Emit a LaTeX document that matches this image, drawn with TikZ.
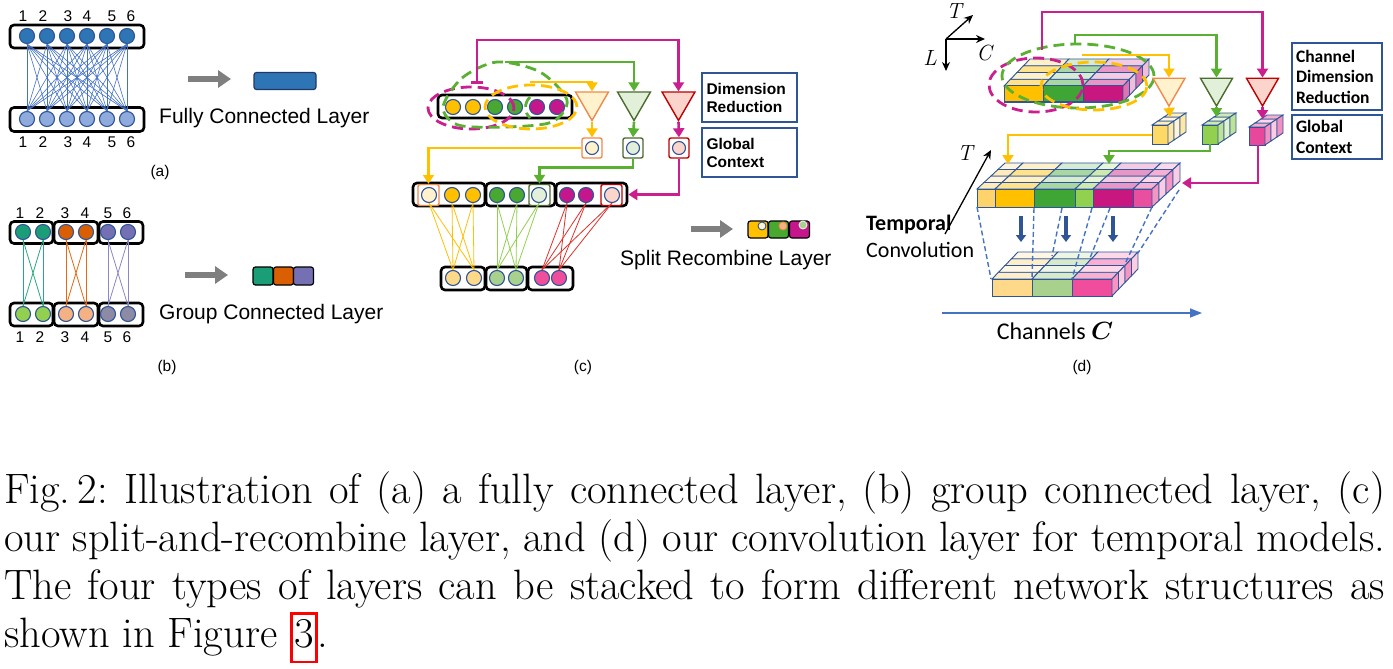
\documentclass[tikz,border=0pt]{standalone}
\usepackage{fontspec}
\usepackage{amsmath}
\usetikzlibrary{arrows.meta,shapes.geometric,calc}
\newfontfamily\arialf{Liberation Sans}
\newfontfamily\calf{Carlito}
\definecolor{fcblue}{HTML}{2E75B6}
\definecolor{cborder}{HTML}{2F5597}
\definecolor{fclight}{HTML}{8FAADC}
\definecolor{fcline}{HTML}{4472C4}
\definecolor{darkb}{HTML}{1F3864}
\definecolor{arrgray}{HTML}{7F7F7F}
\definecolor{tealB}{HTML}{1B9E77}
\definecolor{orgB}{HTML}{D95F02}
\definecolor{purB}{HTML}{7570B3}
\definecolor{lgrnB}{HTML}{92D050}
\definecolor{peachB}{HTML}{F4B183}
\definecolor{gpurB}{HTML}{8C8AA4}
\definecolor{tealL}{HTML}{2AA784}
\definecolor{orgL}{HTML}{E5690E}
\definecolor{purL}{HTML}{8C86C4}
\definecolor{cyel}{HTML}{FFC000}
\definecolor{cgrn}{HTML}{48A830}
\definecolor{cmag}{HTML}{C5168B}
\definecolor{cmagl}{HTML}{CC1F8F}
\definecolor{cgrnl}{HTML}{5AB031}
\definecolor{lyel}{HTML}{FFF2CC}
\definecolor{lgrnc}{HTML}{E2F0D9}
\definecolor{lpink}{HTML}{FBD5CC}
\definecolor{corange}{HTML}{F08A4B}
\definecolor{dkgrn}{HTML}{4B6B2F}
\definecolor{dred}{HTML}{C00000}
\definecolor{byel}{HTML}{FFD98A}
\definecolor{bgrn}{HTML}{A9D18E}
\definecolor{bpnk}{HTML}{F04E9C}
\definecolor{lnY}{HTML}{FFC000}
\definecolor{lnG}{HTML}{92D050}
\definecolor{lnR}{HTML}{E0302B}
\definecolor{tblue}{HTML}{2F5597}
\definecolor{edgeb}{HTML}{2F5597}
\definecolor{pnk}{HTML}{E8509F}
\definecolor{lyel2}{HTML}{FFD36B}
\definecolor{lgrn2}{HTML}{92D050}
\definecolor{dgrnf}{HTML}{3FA535}
\definecolor{dmagf}{HTML}{C8177F}
\definecolor{cubeY}{HTML}{FFD966}
\definecolor{cubeG}{HTML}{92D050}
\definecolor{cubeM}{HTML}{E8489B}

\newcommand{\drawslab}[8]{%
  \foreach \Sa/\Sb/\Sc in {#6}{%
    \foreach \k in {1,...,#8}{%
      \pgfmathsetmacro{\fa}{(\k-1)/#8}%
      \pgfmathsetmacro{\fb}{\k/#8}%
      \pgfmathtruncatemacro{\tn}{ifthenelse(mod(\k,2)==1,45,22)}%
      \filldraw[fill=\Sc!\tn, draw=edgeb, line width=0.9pt]
        ({\Sa+\fa*(#3)},{#1+\fa*(#4)}) -- ({\Sb+\fa*(#3)},{#1+\fa*(#4)}) --
        ({\Sb+\fb*(#3)},{#1+\fb*(#4)}) -- ({\Sa+\fb*(#3)},{#1+\fb*(#4)}) -- cycle;
    }%
    \filldraw[fill=\Sc, draw=edgeb, line width=1pt] (\Sa,#1) rectangle (\Sb,#2);
  }%
  \foreach \k in {1,...,#8}{%
    \pgfmathsetmacro{\fa}{(\k-1)/#8}%
    \pgfmathsetmacro{\fb}{\k/#8}%
    \pgfmathtruncatemacro{\tn}{ifthenelse(mod(\k,2)==1,60,28)}%
    \filldraw[fill=#7!\tn, draw=edgeb, line width=0.9pt]
      ({#5+\fa*(#3)},{#1+\fa*(#4)}) -- ({#5+\fb*(#3)},{#1+\fb*(#4)}) --
      ({#5+\fb*(#3)},{#2+\fb*(#4)}) -- ({#5+\fa*(#3)},{#2+\fa*(#4)}) -- cycle;
  }%
}
\newcommand{\myredbox}[1]{{\color{red}\fboxrule=2.5pt\fboxsep=1.5pt\fbox{\color{black}\rule[-12pt]{0pt}{43pt}#1}}}

\tikzset{
 lbox/.style={draw=black, line width=2.6pt, rounded corners=4pt, fill=white, inner sep=0pt},
 nd/.style={circle, draw=cborder, line width=1.1pt, minimum size=15pt, inner sep=0pt},
 num/.style={font=\arialf\fontsize{15.5}{17}\selectfont, inner sep=0pt},
 lbl/.style={font=\arialf\fontsize{21}{24}\selectfont, anchor=west, inner sep=0pt},
 sublbl/.style={font=\arialf\fontsize{15.5}{17}\selectfont, inner sep=0pt},
 garrow/.style={draw=arrgray, line width=6pt, -{Triangle[length=13pt,width=17pt]}},
 fcl/.style={draw=fcline, line width=0.6pt},
 sqr/.style={draw=black, line width=1.2pt, rounded corners=2.5pt, minimum width=20pt, minimum height=18pt, inner sep=0pt},
 tri/.style={regular polygon, regular polygon sides=3, shape border rotate=180, minimum size=38pt, inner sep=0pt, line width=1.4pt},
 gcb/.style={draw=#1, line width=1.4pt, fill=white, rounded corners=2pt, minimum size=20pt, inner sep=0pt},
 carr/.style={draw=#1, line width=2.6pt, -{Triangle[length=9pt,width=11pt]}},
 dsh/.style={draw=#1, line width=2.8pt, dash pattern=on 11pt off 6pt},
 tbox/.style={draw=tblue, line width=1.4pt, minimum width=95pt, minimum height=49pt, text width=86pt, align=left, inner sep=3pt, font=\arialf\bfseries\fontsize{15.5}{18}\selectfont},
 tboxd/.style={draw=tblue, line width=1.4pt, minimum width=90pt, text width=82pt, align=left, inner sep=3pt, font=\calf\bfseries\fontsize{17.5}{20.5}\selectfont},
 dbl/.style={draw=fcline, line width=1.4pt, dash pattern=on 5pt off 3pt},
 dar/.style={draw=cborder, line width=3.5pt, -{Triangle[length=7pt,width=10pt]}},
 blk/.style={draw=black, line width=1.3pt, -{Stealth[length=9pt,width=8pt]}},
 axlbl/.style={font=\fontsize{22}{24}\selectfont\itshape, inner sep=0pt},
}

\begin{document}
\begin{tikzpicture}[x=1pt,y=-1pt]
\useasboundingbox (0,0) rectangle (1393,669);
\fill[white] (0,0) rectangle (1393,669);

% ================= (a) =================
\node[lbox, minimum width=134pt, minimum height=23pt] (aTop) at (77,36.5) {};
\node[lbox, minimum width=134pt, minimum height=24pt] (aBot) at (77,119.5) {};
\foreach \i/\x in {1/27,2/47,3/67,4/87,5/107,6/127}{
  \node[nd, fill=fcblue] (aU\i) at (\x,36) {};
  \node[nd, fill=fclight] (aL\i) at (\x,119) {};
}
\foreach \i in {1,...,6}{\foreach \j in {1,...,6}{\draw[fcl] (aU\i.south) -- (aL\j.north);}}
\foreach \i/\x in {1/23,2/43,3/68,4/87,5/112,6/131}{
  \node[num] (aNt\i) at (\x,16) {\i};
  \node[num] (aNb\i) at (\x,142) {\i};
}
\coordinate (aA1) at (188,79);
\coordinate (aA2) at (231,79);
\draw[garrow] (aA1) -- (aA2);
\node[draw=darkb, fill=fcblue, line width=1.2pt, rounded corners=2.5pt, minimum width=62pt, minimum height=17pt, inner sep=0pt] (aRes) at (285,81) {};
\node[lbl] (aTxt) at (159,118) {Fully Connected Layer};
\node[sublbl] (aCap) at (160,172) {(a)};

% ================= (b) =================
\node[lbox, minimum width=43pt, minimum height=22pt] (bT1) at (31.5,232.5) {};
\node[lbox, minimum width=44pt, minimum height=22pt] (bT2) at (76,232.5) {};
\node[lbox, minimum width=44pt, minimum height=22pt] (bT3) at (121,232.5) {};
\node[lbox, minimum width=43pt, minimum height=23pt] (bB1) at (31.5,314.5) {};
\node[lbox, minimum width=44pt, minimum height=23pt] (bB2) at (76,314.5) {};
\node[lbox, minimum width=44pt, minimum height=23pt] (bB3) at (121,314.5) {};
\foreach \i/\x/\ca/\cb in {1/23/tealB/lgrnB,2/43/tealB/lgrnB,3/66/orgB/peachB,4/86/orgB/peachB,5/108/purB/gpurB,6/128/purB/gpurB}{
  \node[nd, fill=\ca] (bU\i) at (\x,232) {};
  \node[nd, fill=\cb] (bL\i) at (\x,314) {};
}
\foreach \i/\j in {1/1,1/2,2/1,2/2}{\draw[draw=tealL, line width=0.8pt] (bU\i.south) -- (bL\j.north);}
\foreach \i/\j in {3/3,3/4,4/3,4/4}{\draw[draw=orgL, line width=0.8pt] (bU\i.south) -- (bL\j.north);}
\foreach \i/\j in {5/5,5/6,6/5,6/6}{\draw[draw=purL, line width=0.8pt] (bU\i.south) -- (bL\j.north);}
\foreach \i/\x in {1/20,2/40,3/65,4/85,5/108,6/127}{
  \node[num] (bNt\i) at (\x,213) {\i};
  \node[num] (bNb\i) at (\x,337) {\i};
}
\coordinate (bA1) at (185,275);
\coordinate (bA2) at (228,275);
\draw[garrow] (bA1) -- (bA2);
\node[sqr, fill=tealB] (bS1) at (263,276) {};
\node[sqr, fill=orgB] (bS2) at (283.5,276) {};
\node[sqr, fill=purB] (bS3) at (303.5,276) {};
\node[lbl] (bTxt) at (159,314) {Group Connected Layer};
\node[sublbl] (bCap) at (167,367) {(b)};

% ================= (c) =================
\node[lbox, minimum width=134pt, minimum height=23pt] (cTop) at (505,106.5) {};
\foreach \i/\x/\cc in {1/453/cyel,2/473/cyel,3/495/cgrn,4/515/cgrn,5/537/cmag,6/557/cmag}{
  \node[nd, fill=\cc] (cU\i) at (\x,107) {};
}
% dashed groupings
\draw[dsh=cmagl] (471,108) ellipse [x radius=43pt, y radius=21pt];
\draw[dsh=cgrnl] plot[smooth cycle] coordinates {(443,107) (462,78) (497,62) (540,72) (567,100) (552,122) (505,127) (458,125)};
\draw[dsh=cgrnl] (530,97) .. controls (524,103) and (524,112) .. (530,118);
\draw[dsh=cyel] (531,107) ellipse [x radius=46pt, y radius=22pt];
% triangles
\node[tri, draw=corange, fill=lyel] (cTY) at (592,101.5) {};
\node[tri, draw=dkgrn, fill=lgrnc] (cTG) at (634,101.5) {};
\node[tri, draw=dred, fill=lpink] (cTR) at (678.5,101.5) {};
% global context boxes
\node[gcb=corange] (cGY) at (592,148) {};
\node[nd, fill=lyel, minimum size=13pt] (cGYc) at (592,148) {};
\node[gcb=dkgrn] (cGG) at (633,148) {};
\node[nd, fill=lgrnc, minimum size=13pt] (cGGc) at (633,148) {};
\node[gcb=dred] (cGR) at (679,148) {};
\node[nd, fill=lpink, minimum size=13pt] (cGRc) at (679,148) {};
% top connectors
\coordinate (cMs) at (477,84);
\coordinate (cGs) at (505,62);
\coordinate (cYs) at (530,82);
\draw[carr=cmagl, {Bar[width=12pt]}-{Triangle[length=9pt,width=11pt]}] (cMs) -- (477,40) -| (cTR.north);
\draw[carr=cgrnl] (cGs) -| (cTG.north);
\draw[carr=cyel] (cYs) -| (cTY.north);
\draw[carr=cyel] (cTY.south) -- (cGY.north);
\draw[carr=cgrnl] (cTG.south) -- (cGG.north);
\draw[carr=cmagl] (cTR.south) -- (cGR.north);
% second row
\node[lbox, minimum width=72pt, minimum height=23pt] (cM1) at (449,194.5) {};
\node[lbox, minimum width=69pt, minimum height=23pt] (cM2) at (520.5,194.5) {};
\node[lbox, minimum width=71pt, minimum height=23pt] (cM3) at (591.5,194.5) {};
\node[gcb=corange, minimum size=21pt] (cH1) at (428.5,195) {};
\node[gcb=dkgrn, minimum size=21pt] (cH2) at (539.5,195) {};
\node[gcb=dred, minimum size=21pt] (cH3) at (611.5,195) {};
\foreach \i/\x/\cc in {1/429/lyel,2/452/cyel,3/473/cyel,4/497/cgrn,5/517/cgrn,6/539/lgrnc,7/567/cmag,8/586/cmag,9/612/lpink}{
  \node[nd, fill=\cc] (cR\i) at (\x,195) {};
}
% bottom row
\node[lbox, minimum width=44pt, minimum height=23pt] (cB1box) at (463,278.5) {};
\node[lbox, minimum width=41pt, minimum height=23pt] (cB2box) at (506.5,278.5) {};
\node[lbox, minimum width=45pt, minimum height=23pt] (cB3box) at (550.5,278.5) {};
\foreach \i/\x/\cc in {1/453/byel,2/474/byel,3/497/bgrn,4/516/bgrn,5/542/bpnk,6/559/bpnk}{
  \node[nd, fill=\cc] (cB\i) at (\x,278) {};
}
\foreach \i in {1,2,3}{\foreach \j in {1,2}{\draw[draw=lnY, line width=0.8pt] (cR\i.south) -- (cB\j.north);}}
\foreach \i in {4,5,6}{\foreach \j in {3,4}{\draw[draw=lnG, line width=0.8pt] (cR\i.south) -- (cB\j.north);}}
\foreach \i in {7,8,9}{\foreach \j in {5,6}{\draw[draw=lnR, line width=0.8pt] (cR\i.south) -- (cB\j.north);}}
% connectors to second row
\draw[carr=cyel] (cGY.west) -| (cH1.north);
\draw[carr=cgrnl] (cGG.south) -- ++(0,9) -| (cH2.north);
\draw[carr=cmagl] (cGR.south) |- (cM3.east);
% labels
\node[tbox] (cDR) at (749.5,97.5) {Dimension\\Reduction};
\node[tbox] (cGC) at (749.5,152.5) {Global\\Context};
\coordinate (cA1) at (691,229);
\coordinate (cA2) at (733,229);
\draw[garrow] (cA1) -- (cA2);
\node[sqr, fill=cyel, minimum height=17pt] (cS1) at (758,229.5) {};
\node[sqr, fill=cgrn, minimum height=17pt] (cS2) at (778.5,229.5) {};
\node[sqr, fill=cmag, minimum height=17pt] (cS3) at (799.5,229.5) {};
\node[circle, draw=cborder, fill=lyel, line width=0.9pt, minimum size=8pt, inner sep=0pt] (cS1c) at (762,226) {};
\node[circle, draw=corange, fill=peachB, line width=0.9pt, minimum size=8pt, inner sep=0pt] (cS2c) at (783,226) {};
\node[circle, draw=lgrnc, fill=bgrn, line width=0.9pt, minimum size=8pt, inner sep=0pt] (cS3c) at (803,225) {};
\node[lbl] (cTxt) at (620,260) {Split Recombine Layer};
\node[sublbl] (cCap) at (583,367) {(c)};

% ================= (d) =================
% axes
\coordinate (ax0) at (946,39);
\coordinate (axT) at (973,15);
\coordinate (axC) at (985,39);
\coordinate (axL) at (946,71);
\draw[blk] (ax0) -- (axT);
\draw[blk] (ax0) -- (axC);
\draw[blk] (ax0) -- (axL);
\node[axlbl] (axTl) at (954,11) {T};
\node[axlbl] (axCl) at (984,53) {C};
\node[axlbl] (axLl) at (930,58) {L};
% top slab
\drawslab{86}{102}{26}{-27}{1123}{1004/1043/cyel,1043/1083/dgrnf,1083/1123/dmagf}{dmagf}{4}
% dashed groupings
\draw[dsh=cmagl] (1036,85) ellipse [x radius=47pt, y radius=27pt];
\draw[dsh=cgrnl] (1078,76) ellipse [x radius=76pt, y radius=32pt];
\draw[dsh=cyel] (1094,86) ellipse [x radius=53pt, y radius=24pt];
% triangles
\node[tri, draw=corange, fill=lyel, minimum size=37pt] (dTY) at (1169,87.5) {};
\node[tri, draw=dkgrn, fill=lgrnc, minimum size=37pt] (dTG) at (1216.5,87.5) {};
\node[tri, draw=dred, fill=lpink, minimum size=37pt] (dTR) at (1262.5,87.5) {};
% connectors top
\coordinate (dMs) at (1042,50);
\coordinate (dGs) at (1075,44);
\coordinate (dYs) at (1082,55);
\draw[carr=cmagl] (dMs) -- (1042,12) -| (dTR.north);
\draw[carr=cgrnl] (dGs) -- (1075,35) -| (dTG.north);
\draw[carr=cyel] (dYs) -| (dTY.north);
% small cubes
\drawslab{125}{144}{18}{-12}{1168}{1152/1168/cubeY}{cubeY}{3}
\drawslab{125}{144}{18}{-12}{1218}{1202/1218/cubeG}{cubeG}{3}
\drawslab{127}{145}{18}{-12}{1265}{1249/1265/cubeM}{cubeM}{3}
\coordinate (dCYt) at (1170,117);
\coordinate (dCGt) at (1216.5,117);
\coordinate (dCMt) at (1262.5,119);
\draw[carr=cyel] (dTY.south) -- (dCYt);
\draw[carr=cgrnl] (dTG.south) -- (dCGt);
\draw[carr=cmagl] (dTR.south) -- (dCMt);
% middle slab
\drawslab{189}{207}{28}{-26}{1152}{977/995/lyel2,995/1034/cyel,1034/1075/dgrnf,1075/1093/lgrn2,1093/1133/dmagf,1133/1152/pnk}{pnk}{4}
% connectors to middle slab
\coordinate (dCYw) at (1152,135);
\coordinate (dMY) at (1008,164);
\coordinate (dCGs) at (1210,144);
\coordinate (dMG) at (1109,164);
\coordinate (dCMs) at (1258,145);
\coordinate (dMM) at (1182,183);
\draw[carr=cyel] (dCYw) -| (dMY);
\draw[carr=cgrnl] (dCGs) -- (1210,151) -| (dMG);
\draw[carr=cmagl] (dCMs) |- (dMM);
% bottom slab
\drawslab{279}{296}{26}{-27}{1112}{992/1032/byel,1032/1072/bgrn,1072/1112/bpnk}{bpnk}{4}
% dashed projection lines
\draw[dbl] (977,207) -- (991,279);
\draw[dbl] (1034,208) -- (1032,279);
\draw[dbl] (1062,208) -- (1052,256);
\draw[dbl] (1092,208) -- (1072,279);
\draw[dbl] (1110,208) -- (1090,258);
\draw[dbl] (1152,207) -- (1124,266);
\draw[dbl] (1179,190) -- (1138,253);
% down arrows
\coordinate (dd1a) at (1021,216); \coordinate (dd1b) at (1021,242);
\coordinate (dd2a) at (1066,216); \coordinate (dd2b) at (1066,242);
\coordinate (dd3a) at (1113,216); \coordinate (dd3b) at (1113,242);
\draw[dar] (dd1a) -- (dd1b);
\draw[dar] (dd2a) -- (dd2b);
\draw[dar] (dd3a) -- (dd3b);
% T arrow
\coordinate (dT1) at (945,234);
\coordinate (dT2) at (991,150);
\draw[blk] (dT1) -- (dT2);
\node[axlbl] (dTl) at (965,153) {T};
\node[anchor=west, inner sep=0pt, font=\calf\bfseries\fontsize{22}{26}\selectfont] (dTemp) at (866,225) {Temporal};
\node[anchor=west, inner sep=0pt, font=\calf\fontsize{22}{26}\selectfont] (dConv) at (866,250) {Convolution};
% channels axis
\coordinate (ch1) at (942,313);
\coordinate (ch2) at (1202,313);
\draw[draw=fcline, line width=1.6pt, -{Triangle[length=12pt,width=9pt]}] (ch1) -- (ch2);
\node[inner sep=0pt, font=\calf\fontsize{24}{28}\selectfont] (dCh) at (1055,331) {Channels $\boldsymbol{C}$};
% text boxes
\node[tboxd, minimum height=67pt] (dDR) at (1337,76.5) {Channel\\Dimension\\Reduction};
\node[tboxd, minimum height=44pt] (dGC) at (1337,137) {Global\\Context};
\node[sublbl] (dCap) at (1082,367) {(d)};

% ================= caption =================
\node[anchor=north west, inner sep=0pt, align=left, font=\fontsize{42.5}{48}\selectfont\frenchspacing] (caption) at (4,471) {%
\makebox[1381pt][s]{Fig.\,2: Illustration of (a) a fully connected layer, (b) group connected layer, (c)}\\
\makebox[1381pt][s]{our split-and-recombine layer, and (d) our convolution layer for temporal models.}\\
\makebox[1381pt][s]{The four types of layers can be stacked to form different network structures as}\\
shown in Figure \myredbox{3}.};
\end{tikzpicture}
\end{document}
